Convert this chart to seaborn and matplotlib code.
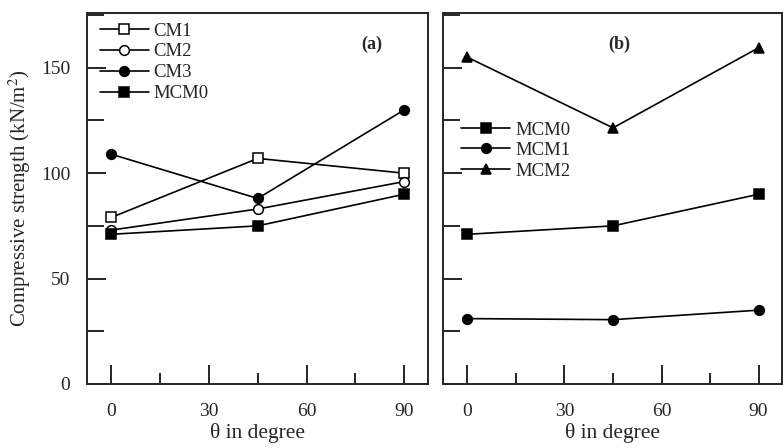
import matplotlib
matplotlib.use("Agg")
import matplotlib.pyplot as plt
import seaborn as sns
import pandas as pd
from matplotlib.ticker import MultipleLocator

sns.set_style("ticks")
plt.rcParams['font.family'] = ['Liberation Serif', 'DejaVu Serif']
plt.rcParams['mathtext.fontset'] = 'stix'

angles = [0, 45, 90]
# Panel (a)
cm1 = [79, 107, 100]
cm2 = [73, 83, 96]
cm3 = [109, 88, 130]
mcm0 = [71, 75, 90]
# Panel (b)
mcm1 = [31, 30.5, 35]
mcm2 = [155, 121.5, 159.5]

series_a = [("CM1", cm1, "s", "white"), ("CM2", cm2, "o", "white"),
            ("CM3", cm3, "o", "black"), ("MCM0", mcm0, "s", "black")]
series_b = [("MCM0", mcm0, "s", "black"), ("MCM1", mcm1, "o", "black"),
            ("MCM2", mcm2, "^", "black")]

fig = plt.figure(figsize=(7.83, 4.48), dpi=100)
axa = fig.add_axes([0.111, 0.143, 0.4355, 0.828])
axb = fig.add_axes([0.566, 0.143, 0.433, 0.828])

def draw(ax, series):
    for name, vals, mk, fc in series:
        df = pd.DataFrame({"theta": angles, "val": vals})
        sns.lineplot(data=df, x="theta", y="val", ax=ax, color="black",
                     marker=mk, markerfacecolor=fc, markeredgecolor="black",
                     markersize=7, markeredgewidth=1.1, linewidth=1.2, label=name)
    ax.set_xlim(-7.5, 97.3)
    ax.set_ylim(0, 176)
    ax.xaxis.set_major_locator(MultipleLocator(30))
    ax.xaxis.set_minor_locator(MultipleLocator(15))
    ax.yaxis.set_major_locator(MultipleLocator(50))
    ax.yaxis.set_minor_locator(MultipleLocator(25))
    ax.tick_params(which="both", direction="in", top=False, right=False,
                   labelsize=14, width=1.4)
    ax.tick_params(axis="x", which="major", length=14, pad=14)
    ax.tick_params(axis="x", which="minor", length=8)
    ax.tick_params(axis="y", which="major", length=14, pad=12)
    ax.tick_params(axis="y", which="minor", length=12)
    for s in ax.spines.values():
        s.set_linewidth(1.4)
        s.set_visible(True)
    ax.set_xlabel("θ in degree", fontsize=15.5, labelpad=2)

draw(axa, series_a)
draw(axb, series_b)
axa.set_ylabel("Compressive strength (kN/m$^2$)", fontsize=15, labelpad=6)
axb.set_ylabel("")
axb.set_yticklabels([])

axa.text(0.835, 0.915, "(a)", transform=axa.transAxes, fontsize=13,
         fontweight="bold", ha="center", va="center")
axb.text(0.52, 0.915, "(b)", transform=axb.transAxes, fontsize=13,
         fontweight="bold", ha="center", va="center")

axa.legend(loc="upper left", bbox_to_anchor=(0.005, 1.005), frameon=False,
           fontsize=13.5, handlelength=2.6, labelspacing=0.2,
           handletextpad=0.25, borderaxespad=0.2)
axb.legend(loc="upper left", bbox_to_anchor=(0.02, 0.738), frameon=False,
           fontsize=13.5, handlelength=2.6, labelspacing=0.18,
           handletextpad=0.3, borderaxespad=0.2)

fig.savefig("out.png", dpi=100)
